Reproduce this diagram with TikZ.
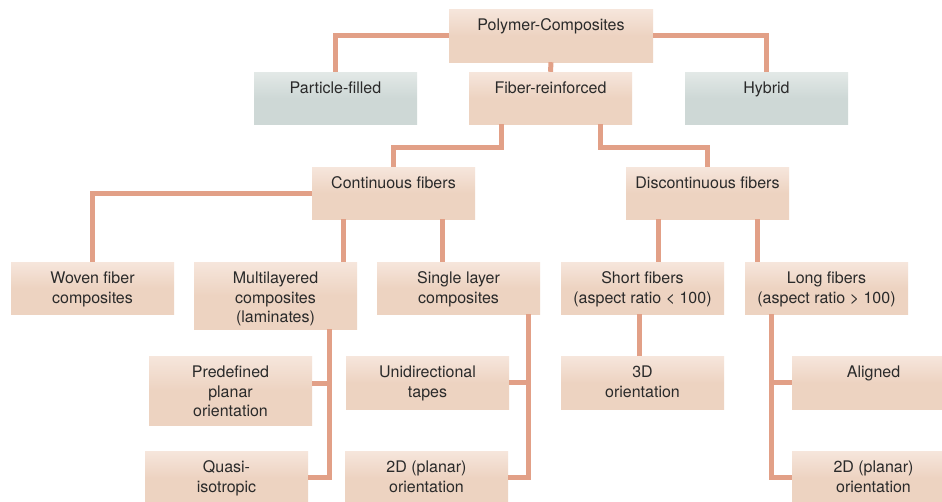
\documentclass[tikz,border=0pt]{standalone}
\usepackage{fontspec}
\setmainfont{TeX Gyre Heros}
\definecolor{peach}{HTML}{EDD3C1}
\definecolor{peachL}{HTML}{F6E6DC}
\definecolor{grayb}{HTML}{CED8D6}
\definecolor{grayL}{HTML}{E3E9E7}
\definecolor{link}{HTML}{E2A087}
\definecolor{txtc}{HTML}{2A2A2A}
\tikzset{
  pbox/.style={rectangle, inner sep=0pt, top color=peachL, bottom color=peach, middle color=peach},
  gbox/.style={rectangle, inner sep=0pt, top color=grayL, bottom color=grayb, middle color=grayb},
  txt/.style={font=\fontsize{16pt}{19.5pt}\selectfont, align=center, inner sep=0pt, anchor=north, text=txtc},
  conn/.style={draw=link, line width=5pt, line join=miter},
}
\newcommand\bx[6]{\node[#6, minimum width={(#4-#2)*1pt}, minimum height={(#5-#3)*1pt}] (#1) at ({(#2+#4)/2},{(#3+#5)/2}) {};}
\newcommand\tx[2]{\node[txt] (t#1) at ([yshift=-9.5pt]#1.north) {\rule{0pt}{12pt}#2};}
\begin{document}
\begin{tikzpicture}[x=1pt,y=-1pt]
\clip (0,0) rectangle (942,501);
\fill[white] (0,0) rectangle (942,501);
% boxes
\bx{poly}{449}{9}{653}{62}{pbox}
\bx{particle}{254}{72}{417}{124}{gbox}
\bx{fiber}{469}{72}{632}{124}{pbox}
\bx{hybrid}{685}{72}{848}{124}{gbox}
\bx{cont}{312}{167}{475}{219}{pbox}
\bx{disc}{626}{167}{789}{219}{pbox}
\bx{woven}{11}{262}{174}{314}{pbox}
\bx{multi}{194}{262}{357}{329}{pbox}
\bx{single}{377}{262}{540}{314}{pbox}
\bx{short}{561}{262}{724}{314}{pbox}
\bx{long}{745}{262}{908}{314}{pbox}
\bx{pre}{149}{356}{312}{425}{pbox}
\bx{uni}{346}{356}{509}{409}{pbox}
\bx{dthree}{561}{356}{724}{409}{pbox}
\bx{aligned}{792}{356}{955}{409}{pbox}
\bx{quasi}{145}{451}{308}{504}{pbox}
\bx{planL}{345}{451}{508}{504}{pbox}
\bx{planR}{792}{451}{955}{504}{pbox}
% texts
\tx{poly}{Polymer-Composites}
\tx{particle}{Particle-filled}
\tx{fiber}{Fiber-reinforced}
\tx{hybrid}{Hybrid}
\tx{cont}{Continuous fibers}
\tx{disc}{Discontinuous fibers}
\tx{woven}{Woven fiber\\composites}
\tx{multi}{Multilayered\\composites\\(laminates)}
\tx{single}{Single layer\\composites}
\tx{short}{Short fibers\\(aspect ratio < 100)}
\tx{long}{Long fibers\\(aspect ratio > 100)}
\tx{pre}{Predefined\\planar\\orientation}
\tx{uni}{Unidirectional\\tapes}
\tx{dthree}{3D\\orientation}
\tx{aligned}{Aligned}
\tx{quasi}{Quasi-\\isotropic}
\tx{planL}{2D (planar)\\orientation}
\tx{planR}{2D (planar)\\orientation}
% connectors
\draw[conn] (poly.west) -| (particle.north);
\draw[conn] (poly.east) -| (hybrid.north);
\draw[conn] (poly.south) -- (fiber.north);
\draw[conn] ([xshift=-49.5pt]fiber.south) -- ++(0,-23pt) -| (cont.north);
\draw[conn] ([xshift=49.5pt]fiber.south) -- ++(0,-23pt) -| (disc.north);
\draw[conn] (cont.west) -| (woven.north);
\draw[conn] ([xshift=-50.5pt]cont.south) -- ([xshift=-50.5pt]cont.south |- multi.north);
\draw[conn] ([xshift=48.5pt]cont.south) -- ([xshift=48.5pt]cont.south |- single.north);
\draw[conn] ([xshift=-49.5pt]disc.south) -- ([xshift=-49.5pt]disc.south |- short.north);
\draw[conn] ([xshift=49.5pt]disc.south) -- ([xshift=49.5pt]disc.south |- long.north);
\draw[conn] ([xshift=-3.5pt]short.south) -- ([xshift=-3.5pt]short.south |- dthree.north);
\coordinate (mb) at ([xshift=53.5pt]multi.south);
\coordinate (pe) at ([yshift=7.5pt]pre.east);
\draw[conn] (mb) -- (mb |- quasi.east) -- (quasi.east);
\draw[conn] (pe) -- (mb |- pe);
\coordinate (sb) at ([xshift=69.5pt]single.south);
\draw[conn] (sb) -- (sb |- planL.east) -- (planL.east);
\draw[conn] (uni.east) -- (sb |- uni.east);
\coordinate (lb) at ([xshift=-55.5pt]long.south);
\draw[conn] (lb) -- (lb |- planR.west) -- (planR.west);
\draw[conn] (aligned.west) -- (lb |- aligned.west);
\end{tikzpicture}
\end{document}
